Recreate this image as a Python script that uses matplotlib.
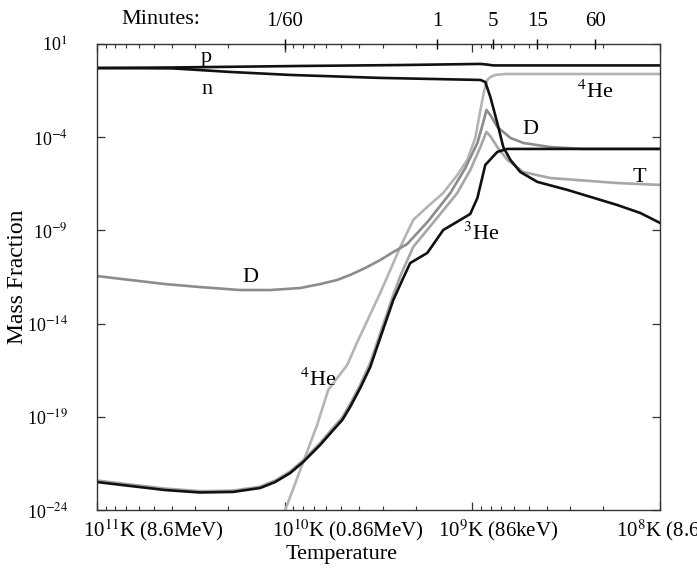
import numpy as np
import matplotlib.pyplot as plt
from matplotlib.ticker import LogLocator, NullLocator, NullFormatter

plt.rcParams['font.family'] = ['Liberation Serif', 'DejaVu Serif']
plt.rcParams['mathtext.fontset'] = 'stix'

# log10 temperature (K) and log10 mass fraction
p_logt = [11.000, 10.595, 9.917, 9.384, 8.957, 8.925, 8.888, 8.000]
p_logx = [-0.29, -0.26, -0.18, -0.13, -0.07, -0.10, -0.15, -0.15]

n_logt = [11.000, 10.595, 10.291, 9.971, 9.491, 8.957, 8.931, 8.904, 8.867,
          8.835, 8.797, 8.744, 8.653, 8.493, 8.227, 8.104, 8.000]
n_logx = [-0.29, -0.31, -0.50, -0.66, -0.82, -0.93, -1.04, -1.84, -3.24,
          -4.53, -5.22, -5.87, -6.40, -6.83, -7.64, -8.07, -8.60]

d_logt = [11.000, 10.824, 10.637, 10.451, 10.237, 10.077, 9.917, 9.811, 9.720,
          9.651, 9.571, 9.491, 9.421, 9.347, 9.235, 9.117, 9.037, 8.973, 8.941,
          8.925, 8.904, 8.867, 8.797, 8.728, 8.584, 8.408, 8.000]
d_logx = [-11.45, -11.66, -11.88, -12.04, -12.20, -12.20, -12.09, -11.88, -11.66,
          -11.39, -11.02, -10.59, -10.16, -9.73, -8.50, -6.99, -5.65, -4.31, -3.18,
          -2.54, -2.81, -3.45, -4.04, -4.31, -4.53, -4.63, -4.63]

t_logt = [11.000, 10.824, 10.637, 10.451, 10.275, 10.131, 10.051, 9.971, 9.901,
          9.811, 9.741, 9.693, 9.651, 9.597, 9.544, 9.491, 9.421, 9.384, 9.315,
          9.197, 9.080, 9.011, 8.957, 8.936, 8.925, 8.904, 8.867, 8.813, 8.728,
          8.584, 8.227, 8.000]
t_logx = [-22.42, -22.63, -22.85, -22.99, -22.96, -22.75, -22.42, -21.93, -21.33,
          -20.40, -19.58, -19.03, -18.31, -17.27, -16.10, -14.52, -12.45, -11.45, -9.89,
          -8.44, -6.99, -5.76, -4.53, -3.99, -3.72, -3.94, -4.53, -5.22, -5.87,
          -6.19, -6.46, -6.56]

he3_logt = [11.000, 10.824, 10.637, 10.451, 10.275, 10.131, 10.051, 9.971, 9.901,
            9.811, 9.741, 9.693, 9.651, 9.597, 9.544, 9.491, 9.421, 9.373, 9.331,
            9.240, 9.155, 9.011, 8.973, 8.931, 8.867, 8.813, 8.000]
he3_logx = [-22.50, -22.71, -22.93, -23.06, -23.03, -22.82, -22.50, -22.02, -21.42,
            -20.51, -19.71, -19.17, -18.47, -17.45, -16.33, -14.77, -12.73, -11.66, -10.75,
            -10.21, -8.98, -8.12, -7.26, -5.49, -4.79, -4.63, -4.63]

he4_logt = [10.035, 9.997, 9.901, 9.827, 9.768, 9.667, 9.613, 9.491, 9.384, 9.315,
            9.240, 9.155, 9.080, 9.027, 8.984, 8.957, 8.936, 8.920, 8.904, 8.877,
            8.824, 8.000]
he4_logx = [-25.07, -24.00, -21.42, -19.44, -17.56, -16.22, -14.99, -12.36, -9.89, -8.44,
            -7.74, -6.99, -6.03, -5.22, -4.04, -2.54, -1.47, -0.93, -0.77, -0.66,
            -0.61, -0.61]

ytick_vals = [1e1, 1e-4, 1e-9, 1e-14, 1e-19, 1e-24]
ytick_labels = ['10$^{1}$', '10$^{-4}$', '10$^{-9}$', '10$^{-14}$', '10$^{-19}$', '10$^{-24}$']

xtick_vals = [1e11, 1e10, 1e9, 1e8]
xtick_labels = ['10$^{11}$K (8.6MeV)', '10$^{10}$K (0.86MeV)', '10$^{9}$K (86keV)',
                '10$^{8}$K (8.6keV)']
xlabel_left = [11.075, 10.067, 9.181, 8.237]   # left edge of each label, log10 T

minute_labels = ['1/60', '1', '5', '15', '60']
minute_logt = [10.0, 9.187, 8.888, 8.653, 8.344]

labels = ['p', 'n', '$^{4}$He', 'D', 'T', '$^{3}$He', 'D', '$^{4}$He']
label_logt = [10.419, 10.413, 8.344, 8.691, 8.109, 8.952, 10.184, 9.821]
label_logx = [0.30, -1.45, -1.575, -3.61, -6.14, -9.19, -11.55, -17.03]


def arr(v):
    return 10 ** np.array(v)


fig = plt.figure(figsize=(6.97, 5.69), dpi=100)
ax = fig.add_axes([0.1392, 0.1037, 0.8077, 0.819])

lw = 1.9
ax.plot(arr(he4_logt), arr(he4_logx), color='#b4b4b4', lw=lw)
ax.plot(arr(d_logt), arr(d_logx), color='#8c8c8c', lw=lw)
ax.plot(arr(t_logt), arr(t_logx), color='#a6a6a6', lw=lw)
ax.plot(arr(he3_logt), arr(he3_logx), color='#111111', lw=lw)
ax.plot(arr(n_logt), arr(n_logx), color='#111111', lw=lw)
ax.plot(arr(p_logt), arr(p_logx), color='#111111', lw=lw)

ax.set_xscale('log')
ax.set_yscale('log')
ax.set_xlim(1e11, 1e8)
ax.set_ylim(1e-24, 1e1)

ax.set_yticks(ytick_vals)
ax.set_yticklabels(ytick_labels, fontsize=13)
ax.yaxis.set_minor_locator(NullLocator())

ax.set_xticks(xtick_vals)
ax.set_xticklabels([''] * len(xtick_vals))
ax.xaxis.set_minor_locator(LogLocator(base=10, subs=np.arange(2, 10)))
ax.xaxis.set_minor_formatter(NullFormatter())

for s in ax.spines.values():
    s.set_linewidth(1.0)
    s.set_color('#333333')

for lab, lt in zip(xtick_labels, xlabel_left):
    ax.text(10 ** lt, -0.043, lab, transform=ax.get_xaxis_transform(),
            ha='left', va='center', fontsize=15, clip_on=False)

# minutes along the top
ax2 = ax.twiny()
ax2.set_xscale('log')
ax2.set_xlim(ax.get_xlim())
ax2.set_xticks(arr(minute_logt))
ax2.set_xticklabels(minute_labels, fontsize=15)
ax2.xaxis.set_minor_locator(NullLocator())
ax2.tick_params(axis='x', direction='inout', length=7, width=1.0, pad=6)
for s in ax2.spines.values():
    s.set_visible(False)

ax.tick_params(axis='both', which='both', direction='in', top=True, right=True,
               labeltop=False, color='#333333')
ax.tick_params(axis='both', which='major', length=6, width=0.9)
ax.tick_params(axis='x', which='minor', length=3, width=0.8)
ax.tick_params(axis='y', which='major', pad=21)

for lab, lt, lx in zip(labels, label_logt, label_logx):
    ax.text(10 ** lt, 10 ** lx, lab, ha='center', va='center', fontsize=16)

fig.text(161 / 697, 1 - 19 / 569, 'Minutes:', ha='center', va='center', fontsize=16)
fig.text(18 / 697, 0.513, 'Mass Fraction', rotation=90, ha='center', va='center', fontsize=17)
fig.text(342 / 697, 1 - 555 / 569, 'Temperature', ha='center', va='center', fontsize=16)

plt.savefig('out.png', dpi=100)
